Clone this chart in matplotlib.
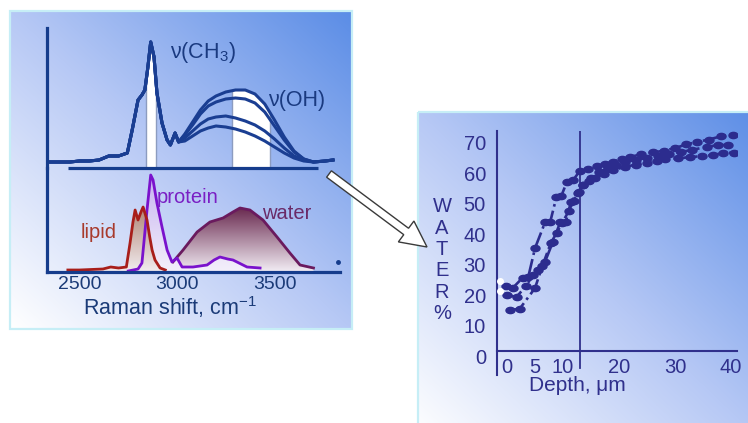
import numpy as np
import matplotlib
matplotlib.use("Agg")
import matplotlib.pyplot as plt
from matplotlib.colors import LinearSegmentedColormap
from matplotlib.patches import Rectangle, FancyArrow, Polygon
from matplotlib.path import Path
from matplotlib.markers import MarkerStyle

plt.rcParams["font.family"] = ["Liberation Sans", "DejaVu Sans"]
plt.rcParams["mathtext.fontset"] = "custom"
plt.rcParams["mathtext.rm"] = "Liberation Sans"
plt.rcParams["mathtext.it"] = "Liberation Sans:italic"

W, H = 748, 423

# ---- Raman spectra of skin (upper part), 4 depths
raman_ticks = [2500, 3000, 3500]
wn_skin = [2350, 2400, 2450, 2500, 2550, 2600, 2650, 2700, 2745, 2770, 2800, 2820, 2835,
           2850, 2865, 2882, 2897, 2923, 2949, 2966, 2990, 3008,
           3040, 3080, 3120, 3160, 3200, 3250, 3300, 3350, 3400, 3450, 3500, 3550, 3600,
           3650, 3700, 3760, 3800]
ch_common = [6, 6, 6, 7, 7, 8, 12, 12, 15, 38, 68, 73, 78, 100, 126, 111, 75, 45, 28, 23, 35, 26]
oh_1 = [34, 46, 58, 67, 72, 76, 78, 78, 74, 64, 48, 31, 17, 9, 6, 7, 8]
oh_2 = [33, 43, 54, 62, 66, 69, 70, 69, 65, 56, 42, 28, 16, 9, 6, 7, 8]
oh_3 = [30, 37, 44, 49, 51, 52, 50, 47, 43, 37, 29, 20, 12, 8, 6, 7, 8]
oh_4 = [27, 32, 37, 40, 42, 41, 39, 36, 32, 27, 21, 15, 10, 7, 6, 7, 8]
ch_band = (2840, 2892)
oh_band = (3282, 3477)

# ---- component spectra (lower part)
wn_lipid = [2440, 2500, 2620, 2660, 2700, 2740, 2759, 2774, 2785, 2800, 2815, 2826, 2846,
            2860, 2872, 2887, 2913, 2940]
lipid = [2, 2, 3, 5, 4, 5, 29, 50, 62, 52, 60, 65, 52, 35, 22, 12, 4, 2]
wn_protein = [2750, 2800, 2820, 2846, 2865, 2877, 2897, 2923, 2949, 2974, 3000, 3026, 3082,
              3154, 3190, 3220, 3260, 3287, 3359, 3426]
protein = [1, 3, 9, 62, 97, 92, 69, 45, 22, 10, 14, 5, 5, 7, 12, 15, 13, 12, 5, 4]
wn_water = [2979, 3031, 3103, 3169, 3236, 3287, 3323, 3374, 3441, 3513, 3579, 3631, 3700]
water = [10, 22, 40, 50, 54, 60, 64, 62, 52, 35, 19, 7, 4]

# ---- water content vs depth (3 profiles)
depth_ticks = [0, 5, 10, 20, 30, 40]
water_ticks = [0, 10, 20, 30, 40, 50, 60, 70]
depth_1 = [-0.1, 1.0, 2.8, 3.8, 5.0, 6.8, 7.7, 8.8, 9.7, 10.7, 11.8, 13.0, 14.5, 16.0, 17.5,
           19.0, 20.5, 22.0, 24.0, 26.0, 28.0, 30.0, 32.0, 34.0, 36.0, 38.3, 40.4]
water_1 = [23.0, 22.3, 25.7, 26.0, 35.4, 43.9, 43.9, 52.0, 52.5, 57.2, 57.7, 60.7, 61.5, 62.3,
           63.0, 63.8, 64.6, 65.3, 66.2, 66.8, 67.3, 68.2, 69.4, 70.2, 71.0, 72.1, 72.5]
depth_2 = [0.0, 1.7, 3.4, 4.6, 5.5, 6.8, 8.2, 9.5, 10.5, 11.4, 12.6, 13.6, 15.0, 16.5, 18.0,
           19.5, 21.0, 23.0, 25.0, 27.0, 29.0, 31.0, 33.0, 35.7, 37.7, 39.5]
water_2 = [20.0, 19.4, 23.0, 26.5, 28.2, 31.0, 37.5, 43.9, 44.0, 50.5, 53.5, 56.0, 58.5, 60.3,
           61.8, 62.8, 63.6, 64.3, 65.0, 65.7, 66.3, 66.9, 67.6, 68.6, 69.2, 69.2]
depth_3 = [0.5, 2.3, 5.0, 6.3, 7.8, 8.9, 9.9, 11.0, 11.9, 12.8, 13.6, 14.6, 15.8, 17.3, 19.0,
           21.0, 23.0, 25.0, 26.7, 28.2, 30.5, 32.7, 34.8, 36.8, 38.6, 40.5]
water_3 = [15.0, 15.6, 22.3, 29.5, 37.0, 40.5, 43.8, 47.5, 51.0, 53.8, 56.0, 57.3, 58.5, 59.8,
           61.0, 62.0, 62.8, 63.4, 63.9, 64.5, 64.9, 65.2, 65.6, 65.9, 66.6, 66.7]
depth_edge = [-1.25, -1.25]
water_edge = [24.5, 21.2]
depth_mark = 13.0

NAVY = "#153c8c"
RIGHT_C = "#30308c"


def px_axes(fig, x0, y0, x1, y1):
    # axes placed by pixel box (y measured from top)
    return fig.add_axes([x0 / W, 1 - y1 / H, (x1 - x0) / W, (y1 - y0) / H])


def panel(ax, x0, y0, x1, y1):
    gx, gy = np.meshgrid(np.linspace(0, 1, 300), np.linspace(0, 1, 300))
    t = np.clip(0.5 * gx + 0.5 * (1 - gy), 0, 1)
    cmap = LinearSegmentedColormap.from_list("bg", ["#ffffff", "#b6c8f5", "#5b8de6"])
    ax.imshow(cmap(t), extent=(x0, x1, y1, y0), origin="upper", aspect="auto",
              interpolation="bilinear", zorder=1)
    ax.add_patch(Rectangle((x0, y0), x1 - x0, y1 - y0, fill=False, ec="#c6eef6",
                           lw=1.6, zorder=2))


def grad_fill(ax, x, y, c_top, c_bot, z):
    x = np.asarray(x, float)
    y = np.asarray(y, float)
    poly = Polygon(np.column_stack([np.r_[x[0], x, x[-1]], np.r_[0, y, 0]]),
                   closed=True, fc="none", ec="none")
    ax.add_patch(poly)
    cmap = LinearSegmentedColormap.from_list("f", [c_bot, c_top])
    im = ax.imshow(np.linspace(0, 1, 256).reshape(-1, 1), cmap=cmap, origin="lower",
                   aspect="auto", extent=(x.min(), x.max(), 0, y.max()), zorder=z)
    im.set_clip_path(poly)


fig = plt.figure(figsize=(W / 100, H / 100), dpi=100)
fig.patch.set_facecolor("white")

# background canvas in pixel units
bg = fig.add_axes([0, 0, 1, 1])
bg.set_xlim(0, W)
bg.set_ylim(H, 0)
bg.axis("off")
panel(bg, 10, 11, 352, 329)
panel(bg, 418, 112, 760, 440)
bg.add_patch(FancyArrow(329, 174, 98, 73, width=8, head_width=26, head_length=26,
                        length_includes_head=True, fc="white", ec="#3a3a3a", lw=1.0,
                        zorder=5))
bg.set_xlim(0, W)
bg.set_ylim(H, 0)

# ---- left: spectra
wlim = (2333, 3836)
ax_u = px_axes(fig, 47, 28, 340, 168)
ax_l = px_axes(fig, 47, 168, 340, 272)
for a in (ax_u, ax_l):
    a.patch.set_alpha(0)
    for s in ("top", "right"):
        a.spines[s].set_visible(False)
    a.spines["left"].set_color(NAVY)
    a.spines["left"].set_linewidth(2.3)

ax_u.spines["bottom"].set_visible(False)
ax_u.set_xticks([])
ax_u.set_yticks([])

wn = np.asarray(wn_skin, float)
skin = [np.array(ch_common + oh, float) for oh in (oh_1, oh_2, oh_3, oh_4)]
for lo, hi in (ch_band, oh_band):
    xb = np.r_[lo, wn[(wn > lo) & (wn < hi)], hi]
    yb = np.interp(xb, wn, skin[0])
    ax_u.fill_between(xb, 0, yb, color="white", lw=0, zorder=1)
    ax_u.vlines([lo, hi], 0, [yb[0], yb[-1]], color="#8c9cc0", lw=1.0, zorder=1.5)
for y in skin[::-1]:
    ax_u.plot(wn, y, color="#1a3e92", lw=2.2, zorder=2)
ax_u.hlines(0, 2441, 3723, color=NAVY, lw=2.3, clip_on=False, zorder=3)
ax_u.text(3133, 116, r"ν(CH$_3$)", fontsize=15.5, color="#1a3a80", ha="center", va="center")
ax_u.text(3615, 68, "ν(OH)", fontsize=15.5, color="#1a3a80", ha="center", va="center")
ax_u.set_xlim(*wlim)
ax_u.set_ylim(0, 140)

grad_fill(ax_l, wn_water, water, "#6a2a50", "#f3eef5", 1)
grad_fill(ax_l, wn_protein, protein, "#c6b2f0", "#f4f0fb", 1.2)
grad_fill(ax_l, wn_lipid, lipid, "#b08474", "#f2edf0", 1.4)
ax_l.plot(wn_water, water, color="#6a1a5e", lw=2.0, zorder=2)
ax_l.plot(wn_protein, protein, color="#7a12cc", lw=2.0, zorder=2.2)
ax_l.plot(wn_lipid, lipid, color="#a81e1a", lw=2.0, zorder=2.4)
ax_l.plot([3826], [10], "o", color=NAVY, ms=2.5)
ax_l.text(2600, 40, "lipid", fontsize=14.5, color="#a83a2c", ha="center", va="center")
ax_l.text(3056, 75, "protein", fontsize=14.5, color="#7a1fc4", ha="center", va="center")
ax_l.text(3564, 59, "water", fontsize=14.5, color="#6a2a68", ha="center", va="center")
ax_l.spines["bottom"].set_color(NAVY)
ax_l.spines["bottom"].set_linewidth(2.3)
ax_l.set_yticks([])
ax_l.set_xticks(raman_ticks)
ax_l.tick_params(axis="x", length=0, pad=3, labelsize=14, labelcolor="#1b3b78")
ax_l.text(0.42, -0.34, r"Raman shift, cm$^{\mathregular{-1}}$", transform=ax_l.transAxes,
          fontsize=15.5, color="#1b3b78", ha="center", va="center")
ax_l.set_xlim(*wlim)
ax_l.set_ylim(0, 104)

# ---- right: water profile
ax_r = px_axes(fig, 497, 130.7, 737, 375)
ax_r.patch.set_alpha(0)
for s in ("top", "right"):
    ax_r.spines[s].set_visible(False)
for s in ("left", "bottom"):
    ax_r.spines[s].set_color(RIGHT_C)
    ax_r.spines[s].set_linewidth(1.5)
ax_r.spines["bottom"].set_position(("data", 1.7))
ax_r.set_xlim(-1.79, 41.07)
ax_r.set_ylim(-6.2, 73.9)
ax_r.set_xticks(depth_ticks)
ax_r.set_yticks(water_ticks)
ax_r.tick_params(length=0, labelsize=14.5, labelcolor=RIGHT_C)
ax_r.tick_params(axis="x", pad=5)
ax_r.tick_params(axis="y", pad=8)
ax_r.axvline(depth_mark, ymin=0.029, ymax=1, color=RIGHT_C, lw=1.3)

circ = Path.unit_circle()
ell = MarkerStyle(Path(circ.vertices * [1.45, 1.0], circ.codes))
for d, v in ((depth_1, water_1), (depth_2, water_2), (depth_3, water_3)):
    ax_r.plot(d, v, linestyle="-.", color="#2c2c8e", lw=1.9, marker=ell, ms=6.5,
              mec="#2c2c8e", mfc="#2c2c8e", zorder=3)
ax_r.plot(depth_edge, water_edge, "o", color="white", ms=4, zorder=3, clip_on=False)

ax_r.text(-0.229, 0.47, "W\nA\nT\nE\nR\n%", transform=ax_r.transAxes, fontsize=14.5,
          color=RIGHT_C, ha="center", va="center", linespacing=1.16)
ax_r.text(0.333, -0.045, "Depth, μm", transform=ax_r.transAxes, fontsize=15,
          color=RIGHT_C, ha="center", va="center")

fig.savefig("out.png", dpi=100)
